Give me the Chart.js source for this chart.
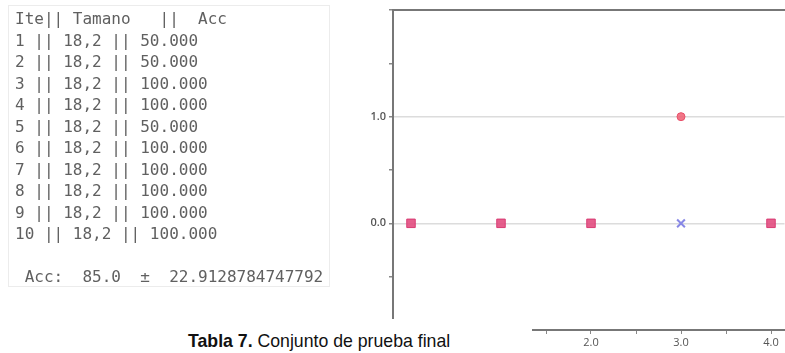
<!DOCTYPE html>
<html>
<head>
<meta charset="utf-8">
<script src="https://cdn.jsdelivr.net/npm/chart.js@4/dist/chart.umd.min.js"></script>
<style>
  html,body{margin:0;padding:0;background:#fff;}
  #page{position:relative;width:785px;height:353px;overflow:hidden;background:#fff;}
  #console{position:absolute;left:8px;top:5px;width:322px;height:282px;border:1px solid #ececec;box-sizing:border-box;}
  #console pre{position:absolute;left:6px;top:2px;margin:0;font-family:"DejaVu Sans Mono","Liberation Mono",monospace;font-size:16px;line-height:21.5px;color:#606060;will-change:transform;-webkit-font-smoothing:antialiased;}
  #chartBox{position:absolute;left:355px;top:0;width:437px;height:353px;}
  #cover{position:absolute;left:140px;top:319px;width:392px;height:34px;background:#fff;}
  #caption{position:absolute;left:188px;top:330px;font-family:"Liberation Sans",Arial,sans-serif;font-size:17.7px;line-height:22px;color:#111;white-space:nowrap;}
</style>
</head>
<body>
<div id="page">
  <div id="console"><pre id="consoleText"></pre></div>
  <div id="chartBox"><canvas id="c" width="437" height="353"></canvas></div>
  <div id="cover"></div>
  <div id="caption"><b>Tabla 7.</b> Conjunto de prueba final</div>
</div>
<script>
// ---- console table data ----
const iterations = [1,2,3,4,5,6,7,8,9,10];
const sizes = ["18,2","18,2","18,2","18,2","18,2","18,2","18,2","18,2","18,2","18,2"];
const accs = ["50.000","50.000","100.000","100.000","50.000","100.000","100.000","100.000","100.000","100.000"];
const accSummary = " Acc:  85.0  \u00b1  22.9128784747792";

// ---- chart data ----
const xValues = [0, 1, 2, 3, 4];
const predicted = [0, 0, 0, 1, 0];
const actual = [0, 0, 0, 0, 0];
const yLabelled = [0, 1];

let lines = ["Ite|| Tamano   ||  Acc"];
for (let i = 0; i < iterations.length; i++) {
  lines.push(iterations[i] + " || " + sizes[i] + " || " + accs[i]);
}
lines.push("");
lines.push(accSummary);
document.getElementById("consoleText").textContent = lines.join("\n");

const predPts = xValues.map((x, i) => ({x: x, y: predicted[i]}));
const actPts = xValues.map((x, i) => ({x: x, y: actual[i]}));
const same = i => predicted[i] === actual[i];

new Chart(document.getElementById("c"), {
  type: "scatter",
  data: {
    datasets: [
      {
        label: "pred",
        data: predPts,
        pointStyle: ctx => same(ctx.dataIndex) ? "rect" : "circle",
        pointRadius: ctx => same(ctx.dataIndex) ? 6 : 4,
        backgroundColor: ctx => same(ctx.dataIndex) ? "rgba(226,78,128,0.9)" : "rgba(240,95,115,0.85)",
        borderColor: ctx => same(ctx.dataIndex) ? "#d83c74" : "#e8506a",
        borderWidth: 1
      },
      {
        label: "real",
        data: actPts,
        pointStyle: "crossRot",
        pointRadius: ctx => same(ctx.dataIndex) ? 0 : 5.5,
        borderColor: "#8888e6",
        backgroundColor: "#8888e6",
        borderWidth: 2
      }
    ]
  },
  options: {
    responsive: false,
    animation: false,
    layout: {padding: {top: 10, right: 0, left: 0, bottom: 0}},
    plugins: {legend: {display: false}, tooltip: {enabled: false}},
    scales: {
      x: {
        type: "linear",
        position: "bottom",
        min: -0.2,
        max: 4.15,
        afterFit: s => { s.height = 23; },
        ticks: {
          stepSize: 0.5,
          includeBounds: false,
          autoSkip: false,
          maxRotation: 0,
          padding: 2,
          color: "#555",
          font: {family: "Open Sans", size: 11},
          callback: v => Number.isInteger(v) ? v.toFixed(1) : ""
        },
        grid: {drawOnChartArea: false, tickLength: 4, tickColor: "#888", color: "#888"},
        border: {display: true, color: "#777", width: 2}
      },
      x2: {
        type: "linear",
        position: "top",
        min: -0.2,
        max: 4.15,
        ticks: {display: false},
        grid: {display: false, drawTicks: false},
        border: {display: true, color: "#777", width: 2}
      },
      y: {
        type: "linear",
        min: -1,
        max: 2,
        afterFit: s => { s.width = 38; },
        ticks: {
          stepSize: 0.5,
          includeBounds: false,
          autoSkip: false,
          padding: 3,
          color: "#555",
          font: {family: "Open Sans", size: 11, weight: "600"},
          callback: v => yLabelled.includes(v) ? v.toFixed(1) : ""
        },
        grid: {
          color: ctx => (ctx.tick && yLabelled.includes(ctx.tick.value)) ? "#dcdcdc" : "rgba(0,0,0,0)",
          lineWidth: 1.5,
          tickLength: 4,
          tickColor: "#888"
        },
        border: {display: true, color: "#777", width: 2}
      }
    }
  }
});
</script>
</body>
</html>
